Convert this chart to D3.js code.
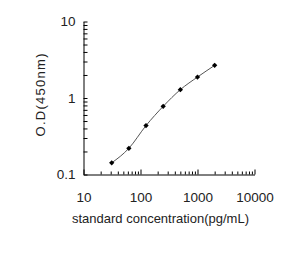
<!DOCTYPE html>
<html>
<head>
<meta charset="utf-8">
<script src="https://cdn.jsdelivr.net/npm/d3@7"></script>
<style>
  body { margin: 0; background: #fff; }
  text { font-family: "Liberation Sans", Arial, sans-serif; fill: #222; }
</style>
</head>
<body>
<div id="chart"></div>
<script>
// standard curve
var concentration = [31.25, 62.5, 125, 250, 500, 1000, 2000]
var od = [0.142, 0.22, 0.436, 0.778, 1.285, 1.88, 2.67]
var xTickLabels = ['10', '100', '1000', '10000']
var yTickLabels = ['0.1', '1', '10']

var width = 284, height = 253

var svg = d3.select('#chart')
  .append('svg')
  .attr('width', width)
  .attr('height', height)

var x = d3.scaleLog().domain([10, 10000]).range([83.5, 254.5])
var y = d3.scaleLog().domain([0.1, 10]).range([174.5, 21.5])

var isMajor = function(v) { return Math.abs(Math.log10(v) - Math.round(Math.log10(v))) < 1e-9 }

// x axis
var xAxis = d3.axisBottom(x)
  .tickValues(x.ticks())
  .tickSizeOuter(0)
  .tickPadding(12)
  .tickFormat(function(d) { return isMajor(d) ? xTickLabels[Math.round(Math.log10(d)) - 1] : '' })

var gx = svg.append('g')
  .attr('transform', 'translate(0,' + y(0.1) + ')')
  .call(xAxis)
gx.select('.domain').attr('stroke', '#000')
gx.selectAll('.tick line')
  .attr('stroke', '#000')
  .attr('y2', function(d) { return isMajor(d) ? -5 : -3 })
gx.selectAll('.tick text')
  .attr('font-size', '13.5px')
  .attr('fill', '#222')

// y axis
var yAxis = d3.axisLeft(y)
  .tickValues(y.ticks())
  .tickSizeOuter(0)
  .tickSizeInner(-4)
  .tickPadding(8)
  .tickFormat(function(d) { return isMajor(d) ? yTickLabels[Math.round(Math.log10(d)) + 1] : '' })

var gy = svg.append('g')
  .attr('transform', 'translate(' + x(10) + ',0)')
  .call(yAxis)
gy.select('.domain').attr('stroke', '#000')
gy.selectAll('.tick line').attr('stroke', '#000')
gy.selectAll('.tick text')
  .attr('font-size', '13.5px')
  .attr('fill', '#222')

// axis titles
svg.append('text')
  .attr('x', 160.5)
  .attr('y', 223)
  .attr('text-anchor', 'middle')
  .attr('font-size', '13px')
  .attr('fill', '#333')
  .text('standard concentration(pg/mL)')

svg.append('text')
  .attr('transform', 'translate(45,95) rotate(-90)')
  .attr('text-anchor', 'middle')
  .attr('font-size', '13px')
  .attr('textLength', 83)
  .attr('lengthAdjust', 'spacing')
  .text('O.D(450nm)')

// curve
var points = concentration.map(function(c, i) { return [c, od[i]] })
var line = d3.line()
  .x(function(d) { return x(d[0]) })
  .y(function(d) { return y(d[1]) })
  .curve(d3.curveMonotoneX)

svg.append('path')
  .datum(points)
  .attr('fill', 'none')
  .attr('stroke', '#555')
  .attr('stroke-width', 1)
  .attr('d', line)

// points
svg.selectAll('.pt')
  .data(points)
  .enter()
  .append('path')
  .attr('class', 'pt')
  .attr('transform', function(d) { return 'translate(' + x(d[0]) + ',' + y(d[1]) + ') rotate(45)' })
  .attr('d', d3.symbol(d3.symbolSquare, 14))
  .attr('fill', '#000')
</script>
</body>
</html>
